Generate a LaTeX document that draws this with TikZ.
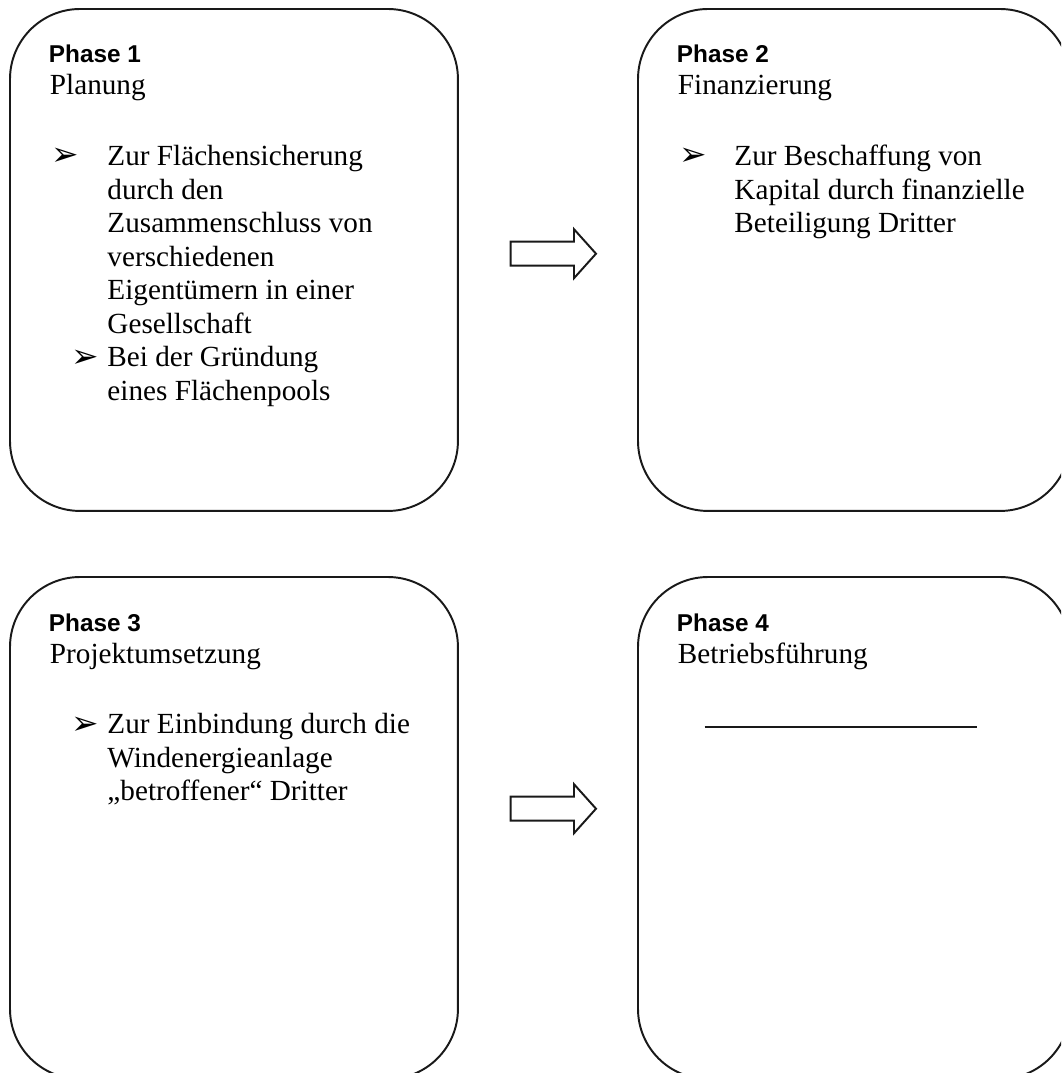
\documentclass[tikz,border=0pt]{standalone}
\usepackage{fontspec}
\setmainfont{Liberation Serif}
\newfontfamily\headfont{Liberation Sans}
\newfontfamily\dingfont{DejaVu Sans}
\usetikzlibrary{positioning}

% body text: 12pt serif with single (1.15) line spacing
\newcommand\bodytext{\fontsize{12pt}{13.77pt}\selectfont}
% top-aligned block of lines, baseline at the first line
\newcommand\linesblock[1]{\parbox[t]{200pt}{\bodytext\raggedright #1}}
\newcommand\arrowbullet{{\dingfont\fontsize{13.5pt}{14pt}\selectfont ➢}}

\tikzset{
  phasebox/.style={draw=black!90, line width=0.8pt, rounded corners=28.8pt,
    anchor=north west, inner sep=0pt, outer sep=0pt, minimum height=206.3pt},
  phasehead/.style={anchor=base west, inner sep=0pt,
    font=\headfont\bfseries\fontsize{10pt}{12pt}\selectfont},
  phasename/.style={anchor=base west, inner sep=0pt, font=\bodytext},
  itemtext/.style={anchor=base west, inner sep=0pt},
  bulletmark/.style={anchor=base west, inner sep=0pt},
  blockarrow/.style={draw=black!90, line width=0.8pt, line join=miter, fill=white},
  rule/.style={draw=black!90, line width=1.2pt}
}

\begin{document}
\begin{tikzpicture}[x=0.411pt, y=-0.411pt]
\useasboundingbox (0,0) rectangle (1061,1073);
\clip (0,0) rectangle (1061,1073);

% the four phase boxes
\node[phasebox, minimum width=184.1pt] (box1) at (10,9) {};
\node[phasebox, minimum width=177.6pt] (box2) at (638,9) {};
\node[phasebox, minimum width=184.1pt] (box3) at (10,577) {};
\node[phasebox, minimum width=177.6pt] (box4) at (638,577) {};

% Phase 1
\node[phasehead] (h1) at (48.5,63) {Phase 1};
\node[phasename] (n1) at (49.5,95) {Planung};
\node[bulletmark] (b1a) at (51,166) {\arrowbullet};
\node[itemtext] (t1a) at (107,165.7) {\linesblock{Zur Flächensicherung\\durch den\\Zusammenschluss von\\verschiedenen\\Eigentümern in einer\\Gesellschaft}};
\node[bulletmark] (b1b) at (71,367) {\arrowbullet};
\node[itemtext] (t1b) at (107,366.7) {\linesblock{Bei der Gründung\\eines Flächenpools}};

% Phase 2
\node[phasehead] (h2) at (676.5,63) {Phase 2};
\node[phasename] (n2) at (677.5,95) {Finanzierung};
\node[bulletmark] (b2a) at (679.5,166) {\arrowbullet};
\node[itemtext] (t2a) at (734,165.7) {\linesblock{Zur Beschaffung von\\Kapital durch finanzielle\\Beteiligung Dritter}};

% Phase 3
\node[phasehead] (h3) at (48.5,631) {Phase 3};
\node[phasename] (n3) at (49.5,663) {Projektumsetzung};
\node[bulletmark] (b3a) at (71,734) {\arrowbullet};
\node[itemtext] (t3a) at (107,733.7) {\linesblock{Zur Einbindung durch die\\Windenergieanlage\\„betroffener“ Dritter}};

% Phase 4
\node[phasehead] (h4) at (676.5,631) {Phase 4};
\node[phasename] (n4) at (677.5,663) {Betriebsführung};
\coordinate (r4a) at (704.6,727);
\coordinate (r4b) at (977,727);
\draw[rule] (r4a) -- (r4b);

% block arrows between the columns
\coordinate (a1) at (510.7,253.7);
\coordinate (a2) at (510.7,808.7);
\foreach \a in {a1,a2}{
  \draw[blockarrow] (\a) ++(0,-12) -- ++(63.3,0) -- ++(0,-12.5) -- ++(22,24.5)
    -- ++(-22,24.5) -- ++(0,-12.5) -- ++(-63.3,0) -- cycle;
}
\end{tikzpicture}
\end{document}
